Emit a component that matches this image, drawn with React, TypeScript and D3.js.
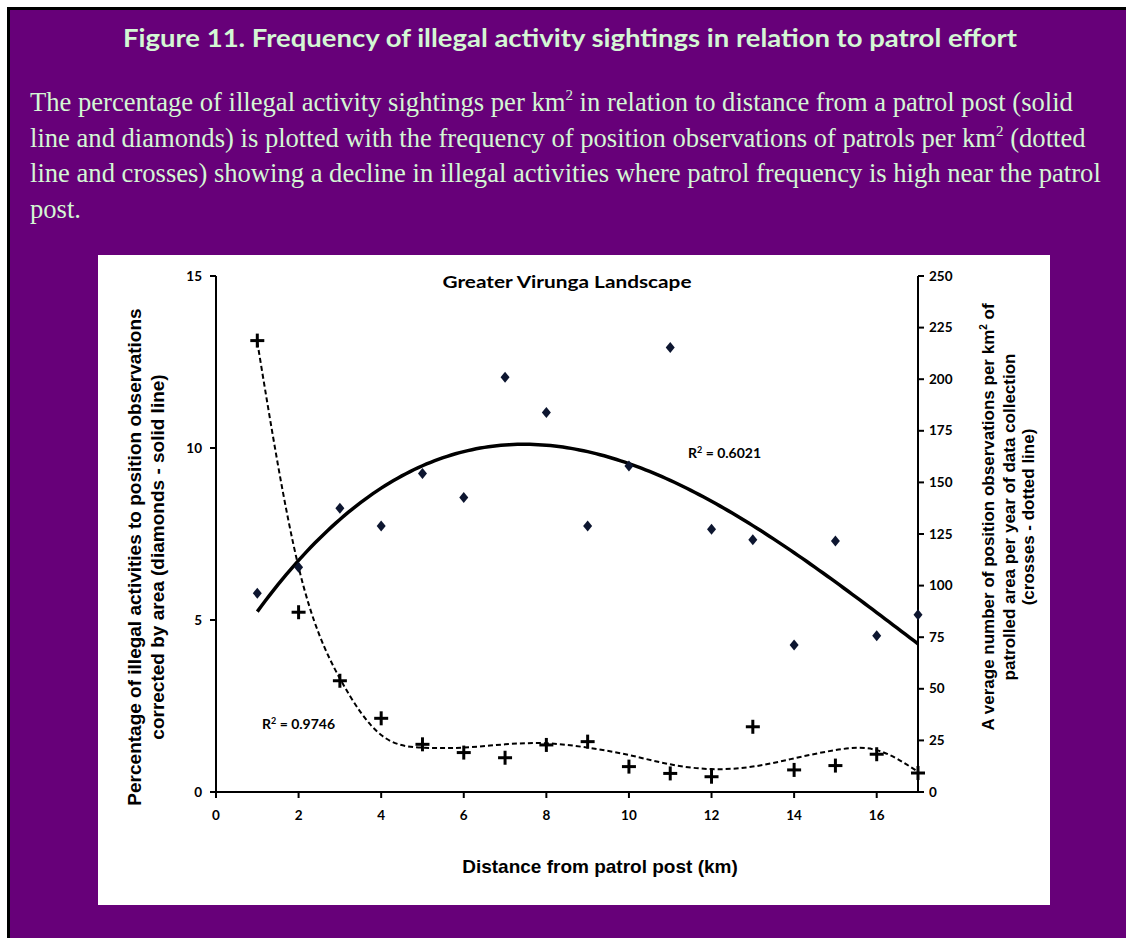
import { useMemo } from "react";
import * as d3 from "d3";

const distance = [1, 2, 3, 4, 5, 6, 7, 8, 9, 10, 11, 12, 13, 14, 15, 16, 17];
const illegalPct = [5.78, 6.53, 8.25, 7.73, 9.26, 8.56, 12.06, 11.03, 7.73, 9.48, 12.92, 7.64, 7.33, 4.27, 7.3, 4.54, 5.15];
const patrolObs = [218.7, 87.1, 53.9, 35.7, 23.1, 19.1, 16.6, 22.8, 24.4, 12.3, 9.0, 7.4, 31.6, 10.7, 12.8, 18.3, 9.2];
// dotted trend line (R² = 0.9746) at each km
const patrolTrend = [218, 109, 55, 27.6, 21.5, 21.5, 23.1, 23.6, 21.5, 17.9, 13.4, 11.1, 12.3, 16.3, 20.3, 20.3, 9.8];

const xTicks = [0, 2, 4, 6, 8, 10, 12, 14, 16];
const leftTicks = [0, 5, 10, 15];
const rightTicks = [0, 25, 50, 75, 100, 125, 150, 175, 200, 225, 250];

const bodyLines = [
  ["The percentage of illegal activity sightings per km", "2", " in relation to distance from a patrol post (solid"],
  ["line and diamonds) is plotted with the frequency of position observations of patrols per km", "2", " (dotted"],
  ["line and crosses) showing a decline in illegal activities where patrol frequency is high near the patrol"],
  ["post."],
];

const W = 1126;
const H = 938;
const PURPLE = "#670079";
const MINT = "#d4f7d4";
const CAL = "Lato, 'Open Sans', sans-serif";
const ARIAL = "'Liberation Sans', Arial, sans-serif";

// least squares polynomial trend (Excel-style)
function polyfit(xs: number[], ys: number[], order: number) {
  const n = order + 1;
  const t = xs.map((x) => (x - 9) / 8);
  const A: number[][] = [];
  for (let i = 0; i < n; i++) {
    const row: number[] = [];
    for (let j = 0; j < n; j++) row.push(d3.sum(t, (v) => Math.pow(v, i + j)));
    row.push(d3.sum(t, (v, k) => Math.pow(v, i) * ys[k]));
    A.push(row);
  }
  for (let c = 0; c < n; c++) {
    let p = c;
    for (let r = c + 1; r < n; r++) if (Math.abs(A[r][c]) > Math.abs(A[p][c])) p = r;
    [A[c], A[p]] = [A[p], A[c]];
    for (let r = 0; r < n; r++) {
      if (r === c) continue;
      const f = A[r][c] / A[c][c];
      for (let k = c; k <= n; k++) A[r][k] -= f * A[c][k];
    }
  }
  const coef = A.map((row, i) => row[n] / row[i]);
  return (x: number) => {
    const tv = (x - 9) / 8;
    return d3.sum(coef, (c, i) => c * Math.pow(tv, i));
  };
}

const Diamond = ({ x, y }: { x: number; y: number }) => (
  <path d={`M${x},${y - 5.5}L${x + 4.5},${y}L${x},${y + 5.5}L${x - 4.5},${y}Z`} fill="#0d1630" />
);

const Cross = ({ x, y }: { x: number; y: number }) => (
  <g stroke="#000" strokeWidth={3}>
    <line x1={x - 7} x2={x + 7} y1={y} y2={y} />
    <line x1={x} x2={x} y1={y - 7} y2={y + 7} />
  </g>
);

export default function App() {
  const x = d3.scaleLinear().domain([0, 17]).range([216, 918]);
  const yL = d3.scaleLinear().domain([0, 15]).range([792, 276]);
  const yR = d3.scaleLinear().domain([0, 250]).range([792, 276]);

  const { solidPath, dashPath } = useMemo(() => {
    const f3 = polyfit(distance, illegalPct, 3);
    const xs = d3.range(1, 17.001, 0.1);
    const solid = d3.line<number>().x((v) => x(v)).y((v) => yL(f3(v)))(xs);
    const dash = d3
      .line<number>()
      .curve(d3.curveNatural)
      .x((_, i) => x(distance[i]))
      .y((v) => yR(v))(patrolTrend);
    return { solidPath: solid, dashPath: dash };
  }, []);

  return (
    <svg width={W} height={H} style={{ position: "absolute", left: 0, top: 0 }}>
      <rect x={7} y={7} width={W} height={H} fill={PURPLE} />
      <line x1={7} x2={W} y1={8.5} y2={8.5} stroke="#000" strokeWidth={3} />
      <line x1={8.5} x2={8.5} y1={7} y2={H} stroke="#000" strokeWidth={3} />

      <text x={570} y={47} textAnchor="middle" fill={MINT} fontFamily={CAL} fontWeight="bold" fontSize={25}
        textLength={894} lengthAdjust="spacingAndGlyphs">
        Figure 11. Frequency of illegal activity sightings in relation to patrol effort
      </text>

      {bodyLines.map((parts, i) => (
        <text key={i} x={30} y={111 + i * 35.5} fill={MINT} fontFamily="'Liberation Serif', 'Times New Roman', serif" fontSize={26.6}>
          {parts.map((p, j) =>
            j === 1 ? (
              <tspan key={j} fontSize={15} dy={-11}>{p}</tspan>
            ) : (
              <tspan key={j} dy={j === 2 ? 11 : 0}>{p}</tspan>
            )
          )}
        </text>
      ))}

      <rect x={98} y={255} width={952} height={650} fill="#fff" />

      <text x={567} y={288} textAnchor="middle" fontFamily={CAL} fontWeight="bold" fontSize={17} fill="#000"
        textLength={249} lengthAdjust="spacingAndGlyphs">
        Greater Virunga Landscape
      </text>

      {/* axes */}
      <g stroke="#000" strokeWidth={2} fill="none">
        <line x1={x(0)} x2={x(0)} y1={yL(15)} y2={yL(0)} />
        <line x1={x(17)} x2={x(17)} y1={yR(250)} y2={yR(0)} />
        <line x1={x(0) - 6} x2={x(17)} y1={yL(0)} y2={yL(0)} />
        {leftTicks.map((t) => (
          <line key={t} x1={x(0) - 6} x2={x(0)} y1={yL(t)} y2={yL(t)} />
        ))}
        {rightTicks.map((t) => (
          <line key={t} x1={x(17)} x2={x(17) + 6} y1={yR(t)} y2={yR(t)} />
        ))}
        {xTicks.map((t) => (
          <line key={t} x1={x(t)} x2={x(t)} y1={yL(0)} y2={yL(0) + 6} />
        ))}
      </g>

      <g fontFamily={CAL} fontWeight="bold" fontSize={13.5} fill="#000">
        {leftTicks.map((t) => (
          <text key={t} x={202} y={yL(t) + 4.5} textAnchor="end">{t}</text>
        ))}
        {rightTicks.map((t) => (
          <text key={t} x={929} y={yR(t) + 4.5}>{t}</text>
        ))}
        {xTicks.map((t) => (
          <text key={t} x={x(t)} y={820} textAnchor="middle">{t}</text>
        ))}
      </g>

      {/* trend lines */}
      <path d={dashPath ?? ""} fill="none" stroke="#000" strokeWidth={2} strokeDasharray="5,3" />
      <path d={solidPath ?? ""} fill="none" stroke="#000" strokeWidth={3.5} />

      {distance.map((d, i) => (
        <Diamond key={"d" + i} x={x(d)} y={yL(illegalPct[i])} />
      ))}
      {distance.map((d, i) => (
        <Cross key={"c" + i} x={x(d)} y={yR(patrolObs[i])} />
      ))}

      <g fontFamily={CAL} fontWeight="bold" fontSize={14} fill="#000">
        <text x={688} y={458}>R<tspan fontSize={9} dy={-5}>2</tspan><tspan dy={5}> = 0.6021</tspan></text>
        <text x={262} y={729}>R<tspan fontSize={9} dy={-5}>2</tspan><tspan dy={5}> = 0.9746</tspan></text>
      </g>

      {/* axis titles */}
      <g fontFamily={ARIAL} fontWeight="bold" fill="#000" textAnchor="middle">
        <text transform="translate(141,557) rotate(-90)" fontSize={19}>
          Percentage of illegal activities to position observations
        </text>
        <text transform="translate(164,557) rotate(-90)" fontSize={19}>
          corrected by area (diamonds - solid line)
        </text>
        <text transform="translate(994,517) rotate(-90)" fontSize={17}>
          A verage number of position observations per km<tspan fontSize={10} dy={-7}>2</tspan><tspan dy={7}> of</tspan>
        </text>
        <text transform="translate(1015,517) rotate(-90)" fontSize={17}>
          patrolled  area per year of data collection
        </text>
        <text transform="translate(1034,517) rotate(-90)" fontSize={17}>
          (crosses - dotted line)
        </text>
        <text x={600} y={873} fontSize={19}>Distance from patrol post (km)</text>
      </g>
    </svg>
  );
}
